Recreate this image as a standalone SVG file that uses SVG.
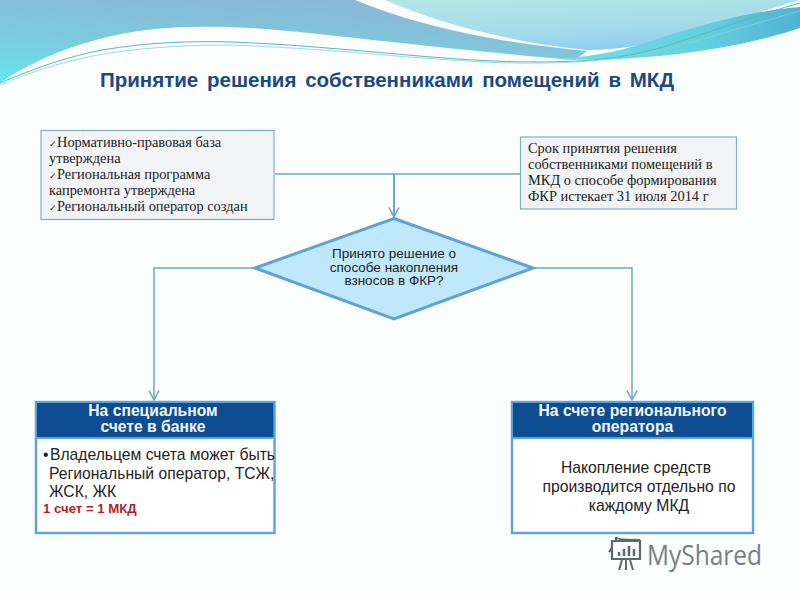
<svg xmlns="http://www.w3.org/2000/svg" width="800" height="600" viewBox="0 0 800 600">
<defs>
<linearGradient id="bgL" x1="0" y1="1" x2="0.45" y2="0"><stop offset="0" stop-color="#62e8ef"/><stop offset="0.4" stop-color="#79cfdf"/><stop offset="1" stop-color="#8ab9d6"/></linearGradient>
<linearGradient id="bgR" x1="0.1" y1="0" x2="0.6" y2="1"><stop offset="0" stop-color="#b3e6e6"/><stop offset="0.6" stop-color="#a6dcea"/><stop offset="1" stop-color="#8dcbf2"/></linearGradient>
<linearGradient id="sw" x1="0" y1="0" x2="1" y2="0"><stop offset="0" stop-color="#70e0e6"/><stop offset="0.6" stop-color="#66cfe0"/><stop offset="1" stop-color="#4fb2d4"/></linearGradient>
<marker id="a" viewBox="0 0 12 12" refX="10.5" refY="6" markerWidth="12" markerHeight="12" markerUnits="userSpaceOnUse" orient="auto"><path d="M1 1L10.5 6L1 11" fill="none" stroke="#6aa9cf" stroke-width="1.6"/></marker>
<style>
.s{font-family:"Liberation Serif",serif;font-size:14.4px;fill:#222}
.h{font-family:"Liberation Sans",sans-serif;font-size:15.7px;font-weight:bold;fill:#f2f6fa;text-anchor:middle}
.b{font-family:"Liberation Sans",sans-serif;font-size:15.7px;fill:#222}
.box{fill:#f1f3f5;stroke:#7fb0c8;stroke-width:1.2}
.card{fill:#fff;stroke:#5ba3dc;stroke-width:2.4}
.c{fill:none;stroke:#6aa9c9;stroke-width:1.5}
</style>
</defs>
<rect width="800" height="600" fill="#fbfcfc"/>
<g id="background">
<path d="M0 0H355C420 27 500 43 587 51L575 60C500 54 400 43 300 32C260 28 225 26 194 27C110 27 40 55 0 83Z" fill="url(#bgL)"/>
<path d="M385 0C440 24 510 42 587 50C660 50 730 20 800 0Z" fill="url(#bgR)"/>
<path d="M555 59C600 56 625 50 660 38C710 22 760 10 800 7V28C750 45 690 55 620 59C600 60 575 60 555 59Z" fill="url(#sw)"/>
<path d="M0 83C35 68 70 56 102 50C150 42 190 41 230 42C290 44 350 50 408 55C450 59 500 62 536 62C590 62 625 58 663 47C710 32 760 14 800 3" fill="none" stroke="#5fb6b8" stroke-width="1"/>
<path d="M0 85C35 70 75 58 110 53C150 47 190 45 230 45C290 47 350 52 408 57C450 60 500 64 536 63C590 63 630 58 670 48C715 36 760 22 800 11" fill="none" stroke="#8ad0d2" stroke-width="0.8"/>
</g>
<text x="100" y="87" font-family="'Liberation Sans',sans-serif" font-size="20px" font-weight="bold" fill="#1c4a80" word-spacing="3" textLength="574" lengthAdjust="spacingAndGlyphs">Принятие решения собственниками помещений в МКД</text>
<g id="connectors">
<path class="c" d="M275 174H520"/>
<path class="c" d="M394 174V217" marker-end="url(#a)" style="stroke-width:2"/>
<path class="c" d="M255 268H154V400" marker-end="url(#a)"/>
<path class="c" d="M533 268H632V400" marker-end="url(#a)"/>
</g>
<g id="node-left-note">
<rect class="box" x="41" y="130.500" width="233" height="89"/>
<text class="s"><tspan x="49" y="147"><tspan font-size="9px">✓</tspan>Нормативно-правовая база</tspan><tspan x="49" y="163">утверждена</tspan><tspan x="49" y="179"><tspan font-size="9px">✓</tspan>Региональная программа</tspan><tspan x="49" y="195">капремонта утверждена</tspan><tspan x="49" y="211"><tspan font-size="9px">✓</tspan>Региональный оператор создан</tspan></text>
</g>
<g id="node-right-note">
<rect class="box" x="520.500" y="137" width="216" height="72"/>
<text class="s"><tspan x="528" y="153">Срок принятия решения</tspan><tspan x="528" y="169">собственниками помещений в</tspan><tspan x="528" y="185">МКД о способе формирования</tspan><tspan x="528" y="201">ФКР истекает 31 июля 2014 г</tspan></text>
</g>
<g id="node-decision">
<polygon points="394,218.500 533,268 394,319 255,268" fill="#bfe9fa" stroke="#5ea2d6" stroke-width="3"/>
<text font-family="'Liberation Sans',sans-serif" font-size="13.500px" fill="#222" text-anchor="middle"><tspan x="394" y="258">Принято решение о</tspan><tspan x="394" y="271.500">способе накопления</tspan><tspan x="394" y="285">взносов в ФКР?</tspan></text>
</g>
<g id="node-bank">
<rect class="card" x="36" y="402" width="238.500" height="131"/>
<rect x="37" y="403" width="236.500" height="34" fill="#0e4d91"/>
<rect x="37" y="437" width="236.500" height="2" fill="#5ba3dc"/>
<text class="h"><tspan x="153" y="416">На специальном</tspan><tspan x="153" y="431.500">счете в банке</tspan></text>
<text class="b"><tspan x="43" y="460">•</tspan><tspan x="50" y="460">Владельцем счета может быть</tspan><tspan x="49" y="479">Региональный оператор, ТСЖ,</tspan><tspan x="49" y="497">ЖСК, ЖК</tspan></text>
<text x="43" y="513" font-family="'Liberation Sans',sans-serif" font-size="13.200px" font-weight="bold" fill="#b01e2a">1 счет = 1 МКД</text>
</g>
<g id="node-operator">
<rect class="card" x="512" y="402" width="241" height="131"/>
<rect x="513" y="403" width="239" height="34" fill="#0e4d91"/>
<rect x="513" y="437" width="239" height="2" fill="#5ba3dc"/>
<text class="h"><tspan x="632.500" y="416">На счете регионального</tspan><tspan x="632.500" y="431.500">оператора</tspan></text>
<text class="b" text-anchor="middle"><tspan x="636" y="473">Накопление средств</tspan><tspan x="639" y="492">производится отдельно по</tspan><tspan x="639" y="511">каждому МКД</tspan></text>
</g>
<g id="watermark" opacity="0.9">
<path d="M612 541H640V559H612ZM616 541V537Q616 540 640 540M612 548L609 552" fill="none" stroke="#4d5a5c" stroke-width="2.200"/>
<path d="M619 556V552M624 556V549M629 556V546M634 556V549" stroke="#4d5a5c" stroke-width="2.500"/>
<path d="M622 560L619 570M626 560V570M630 560L633 570" stroke="#4d5a5c" stroke-width="2"/>
<text x="647" y="565" font-family="'Open Sans','Liberation Sans',sans-serif" font-size="27px" fill="#697476" textLength="115" lengthAdjust="spacingAndGlyphs">MyShared</text>
</g>
</svg>
